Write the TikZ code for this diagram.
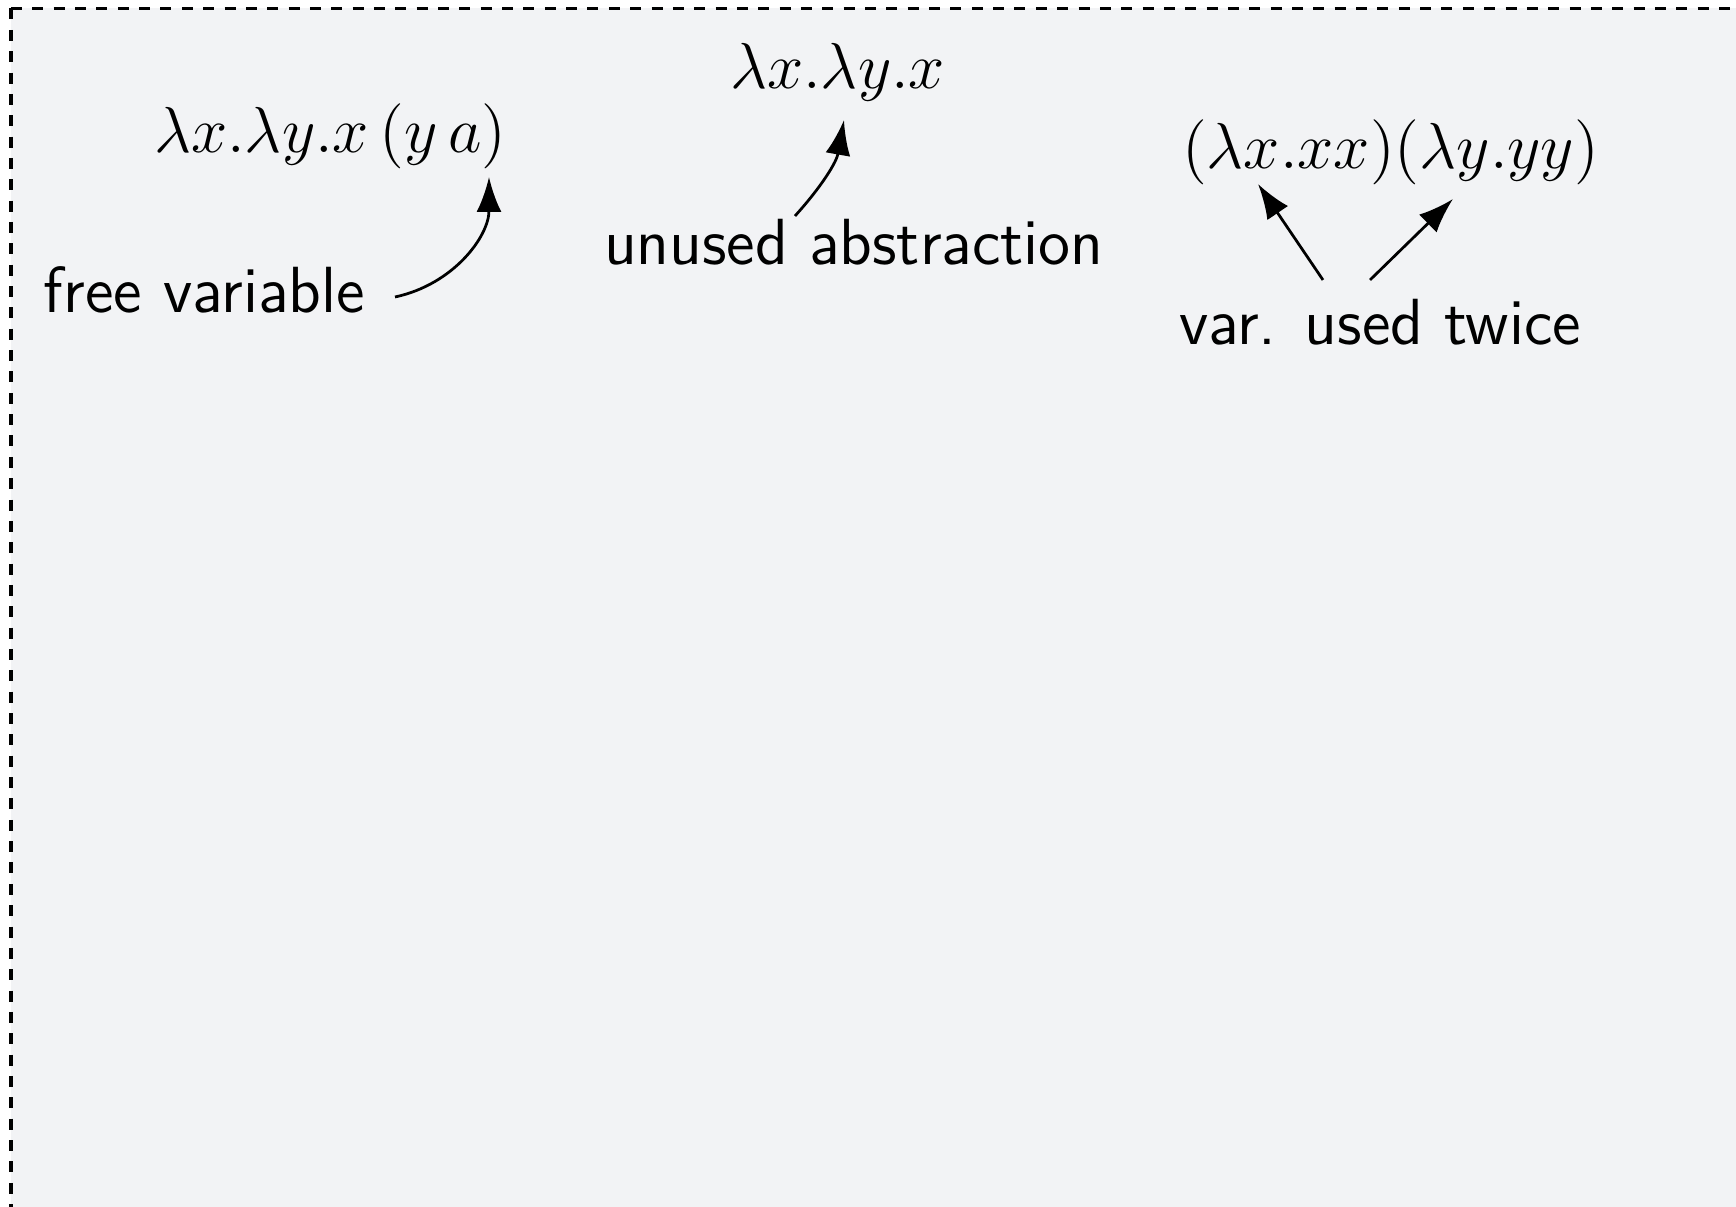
\documentclass[tikz,border=0pt]{standalone}
\usetikzlibrary{arrows.meta}
\definecolor{bg}{RGB}{242,243,245}
\tikzset{
  lbl/.style={font=\sffamily\fontsize{13.05}{15}\selectfont, inner sep=0pt, anchor=base west},
  term/.style={font=\fontsize{12}{14}\selectfont, inner sep=0pt, anchor=base west, scale=1.0833, transform shape},
  conn/.style={line width=0.55pt, -{Latex[length=7pt,width=5pt]}},
  frame/.style={line width=0.7pt, dash pattern=on 2.2pt off 2.07pt}
}
\begin{document}
\begin{tikzpicture}[x=0.2pt,y=-0.2pt]
\useasboundingbox (0,0) rectangle (1736,1207);
\clip (0,0) rectangle (1736,1207);
\fill[white] (0,0) rectangle (1736,1207);
\fill[bg] (11,8.5) rectangle (1780,1240);
\draw[frame] (11,8.5) -- (11,1240);
\draw[frame] (11,8.5) -- (1780,8.5);

% terms
\node[term] (t1) at (153,152.7) {$\lambda x.\lambda y.x\ \!(y\ \!a)$};
\node[term] (t2) at (729,89) {$\lambda x.\lambda y.x$};
\node[term] (t3) at (1181,169) {$(\lambda x.xx)(\lambda y.yy)$};

% labels
\node[lbl] (l1) at (43,312.5) {free variable};
\node[lbl] (l2) at (603,265) {unused abstraction};
\node[lbl] (l3) at (1178,345) {var. used twice};

% arrow ends
\coordinate (s1) at (395,297);
\coordinate (e1) at (489,177);
\coordinate (s2) at (795,216);
\coordinate (e2) at (844,120);
\coordinate (s3) at (1323,280);
\coordinate (e3) at (1258,184);
\coordinate (s4) at (1370,280);
\coordinate (e4) at (1453,199);

\draw[conn] (s1) to[out=12,in=-90] (e1);
\draw[conn] (s2) to[out=48,in=-100] (e2);
\draw[conn] (s3) -- (e3);
\draw[conn] (s4) -- (e4);
\end{tikzpicture}
\end{document}
